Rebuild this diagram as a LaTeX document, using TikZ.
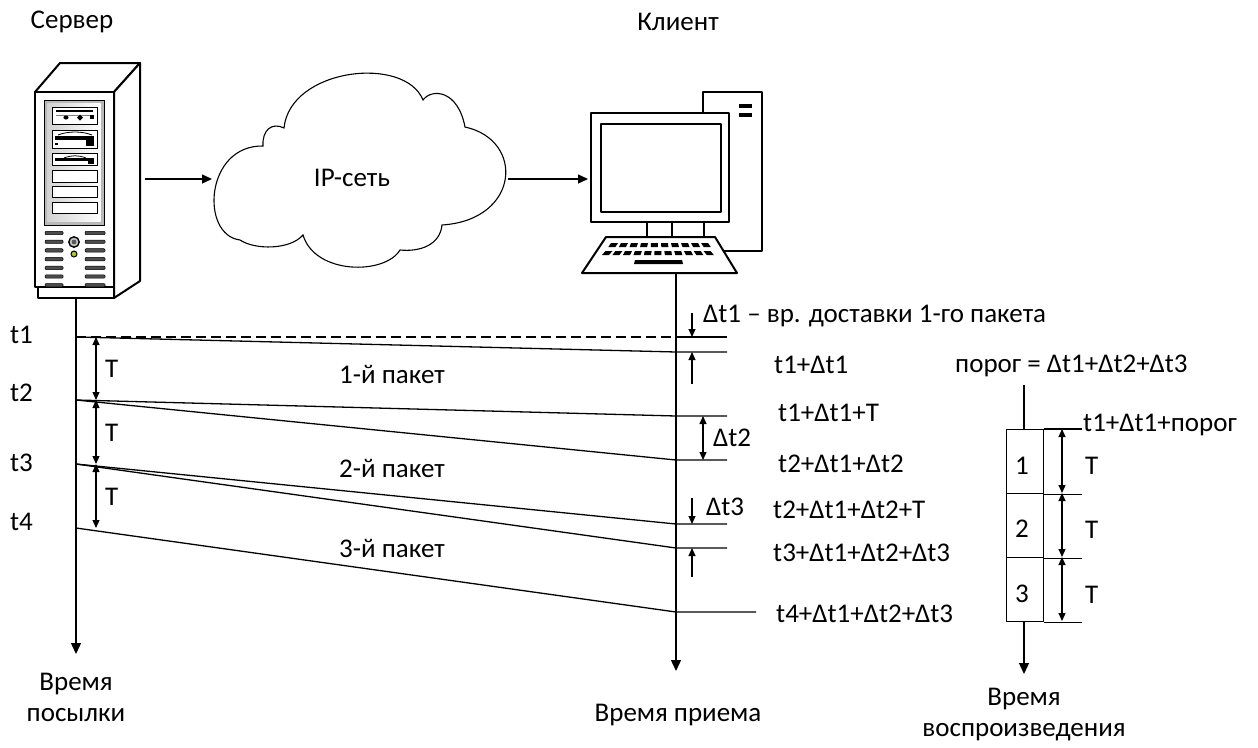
\documentclass[tikz,border=0pt]{standalone}
\usepackage{fontspec}
\setmainfont{Carlito}
\usetikzlibrary{arrows.meta}
\begin{document}
\begin{tikzpicture}[x=1pt,y=-1pt,
  lbl/.style={inner sep=0pt, font=\fontsize{27}{31}\selectfont},
  outl/.style={line width=2pt, line join=round},
  pkt/.style={line width=1.3pt},
  axis/.style={line width=1.3pt, -{Triangle[length=11pt,width=10pt]}},
  flow/.style={line width=1.3pt, -{Triangle[length=10pt,width=9pt]}},
  dim/.style={line width=1.1pt, {Triangle[length=8pt,width=7pt]}-{Triangle[length=8pt,width=7pt]}},
  dimto/.style={line width=1.1pt, -{Triangle[length=8pt,width=7pt]}},
  bay/.style={fill=white, draw=black, line width=1pt},
  vent/.style={fill=gray!60!black, draw=black, line width=0.5pt, rounded corners=1pt},
]
\fill[white] (0,0) rectangle (1258,747);
\useasboundingbox (0,0) rectangle (1258,747);

% ---------- titles ----------
\node[lbl] (tserver) at (72,22) {Сервер};
\node[lbl] (tclient) at (678,22) {Клиент};

% ---------- server tower ----------
\begin{scope}[outl]
  \filldraw[fill=white] (35,92) -- (60,63) -- (140,63) -- (114,92) -- cycle;
  \filldraw[fill=white] (114,92) -- (140,63) -- (140,281) -- (114,298) -- cycle;
  \filldraw[fill=white] (35,92) rectangle (114,287);
  \filldraw[fill=white] (38,287) rectangle (114,298);
\end{scope}
\filldraw[fill=gray!55, draw=black, line width=1pt] (44,100) rectangle (104,225);
\shade[left color=gray!35, right color=white] (47.5,103.5) rectangle (100.5,221.5);
% drive bays
\filldraw[bay] (52,107) rectangle (97,124);
\fill (56,109.5) rectangle (93,111.5);
\draw[gray, line width=0.6pt] (56,115) -- (93,115);
\fill (66,117.5) ellipse (2.6 and 2);
\fill (80,114.5) -- (83,117.5) -- (80,120.5) -- (77,117.5) -- cycle;
\fill (90,115) rectangle (94,119);
\filldraw[bay] (52,130) rectangle (97,148);
\draw[line width=0.8pt] (58,135) .. controls (68,131) and (82,131) .. (92,135);
\fill (55,136) rectangle (94,139.5);
\fill (86,139.5) rectangle (94,146);
\fill (55,143) rectangle (58,145);
\filldraw[bay] (52,153) rectangle (97,165);
\draw[line width=0.8pt] (64,158) .. controls (72,155) and (78,155) .. (86,158);
\fill (55,158) rectangle (94,160.5);
\fill (88,160.5) rectangle (94,164);
\filldraw[bay] (52,170) rectangle (97,182);
\filldraw[bay] (52,186) rectangle (97,197);
\filldraw[bay] (52,202) rectangle (97,213);
% vents, button and led
\foreach \i in {0,...,6} {
  \pgfmathsetmacro\vy{233+\i*8.7}
  \filldraw[vent] (45,\vy-1.7) rectangle (63,\vy+1.7);
  \filldraw[vent] (85,\vy-1.7) rectangle (105,\vy+1.7);
}
\filldraw[fill=gray!45, draw=black, line width=1.4pt] (74,242) circle (5.2);
\fill[gray!70!black] (74,242) circle (2.4);
\filldraw[fill=yellow!75!green!85!black, draw=black, line width=1pt] (74,254) circle (3);

% ---------- cloud ----------
\draw[line width=1.1pt, fill=white]
  (240,240) .. controls (200,235) and (205,145) .. (263,146)
  .. controls (262,130) and (272,122) .. (284,128)
  .. controls (290,68) and (405,55) .. (423,100)
  .. controls (432,88) and (458,90) .. (465,127)
  .. controls (525,140) and (520,220) .. (442,225)
  .. controls (440,245) and (420,252) .. (400,250)
  .. controls (385,275) and (315,275) .. (303,235)
  .. controls (290,250) and (255,250) .. cycle;
\node[lbl] (net) at (352,178) {IP-сеть};

% ---------- client computer ----------
\begin{scope}[outl]
  \filldraw[fill=white] (703,92) rectangle (762,251);
  \filldraw[fill=white] (591,113) rectangle (729,222);
  \draw (601,124) rectangle (721,212);
  \filldraw[fill=white] (647,222) rectangle (672,237);
  \filldraw[fill=white] (672,222) rectangle (704,237);
  \filldraw[fill=white] (606,237) -- (715,237) -- (737,273) -- (582,273) -- cycle;
\end{scope}
\fill (739,104) rectangle (752,107.5);
\fill (739,113) rectangle (752,116.5);
\foreach \i in {0,...,9} {
  \pgfmathsetmacro\kx{611+\i*10}
  \pgfmathsetmacro\sh{(\kx+3.5-659)*0.06}
  \fill (\kx,243) -- (\kx+7,243) -- (\kx+7+\sh,247) -- (\kx+\sh,247) -- cycle;
}
\foreach \i in {0,...,10} {
  \pgfmathsetmacro\kx{605.5+\i*9.8}
  \pgfmathsetmacro\sh{(\kx+3.5-659)*0.07}
  \fill (\kx,251) -- (\kx+7,251) -- (\kx+7+\sh,255) -- (\kx+\sh,255) -- cycle;
}
\fill (635,260) -- (682,260) -- (683,264) -- (634,264) -- cycle;

% ---------- data flow ----------
\coordinate (srvR) at (145,179);
\coordinate (cloudL) at (212,179);
\coordinate (cloudR) at (508,179);
\coordinate (monL) at (588,179);
\draw[flow] (srvR) -- (cloudL);
\draw[flow] (cloudR) -- (monL);

% ---------- time axes ----------
\coordinate (srvTop) at (76,298);
\coordinate (srvEnd) at (76,654);
\coordinate (cliTop) at (676,273);
\coordinate (cliEnd) at (676,671);
\draw[axis] (srvTop) -- (srvEnd);
\draw[axis] (cliTop) -- (cliEnd);
\node[lbl, align=center] (sendlbl) at (76,697) {Время\\посылки};
\node[lbl] (recvlbl) at (678,715) {Время приема};

% sending instants
\coordinate (S1) at (76,337);
\coordinate (S2) at (76,400);
\coordinate (S3) at (76,464);
\coordinate (S4) at (76,528);
% arrival instants
\coordinate (C0) at (676,337);
\coordinate (C1) at (676,352);
\coordinate (C1T) at (676,416);
\coordinate (C2) at (676,460);
\coordinate (C2T) at (676,524);
\coordinate (C3) at (676,548);
\coordinate (C4) at (676,612);
\coordinate (tick) at (727,0);
\coordinate (tickL) at (756,0);

\node[lbl, anchor=west] (t1) at (10,335) {t1};
\node[lbl, anchor=west] (t2) at (10,393) {t2};
\node[lbl, anchor=west] (t3) at (10,463) {t3};
\node[lbl, anchor=west] (t4) at (10,522) {t4};

\draw[pkt, dash pattern=on 10pt off 5pt] (S1) -- (C0);
\draw[pkt] (C0) -- (C0 -| tick);
\draw[pkt] (S1) -- (C1) -- (C1 -| tick);
\draw[pkt] (S2) -- (C1T) -- (C1T -| tick);
\draw[pkt] (S2) -- (C2) -- (C2 -| tick);
\draw[pkt] (S3) -- (C2T) -- (C2T -| tick);
\draw[pkt] (S3) -- (C3) -- (C3 -| tick);
\draw[pkt] (S4) -- (C4) -- (C4 -| tickL);

\node[lbl] (p1) at (392,374) {1-й пакет};
\node[lbl] (p2) at (392,468) {2-й пакет};
\node[lbl] (p3) at (392,548) {3-й пакет};

% send period
\coordinate (TS1) at (96,337);
\coordinate (TS2) at (96,400);
\coordinate (TS3) at (96,464);
\coordinate (TS4) at (96,528);
\draw[dim] (TS1) -- (TS2);
\draw[dim] (TS2) -- (TS3);
\draw[dim] (TS3) -- (TS4);
\node[lbl, anchor=west] (T1) at (105,369) {T};
\node[lbl, anchor=west] (T2) at (105,433) {T};
\node[lbl, anchor=west] (T3) at (105,497) {T};

% delay marks
\coordinate (d1a) at (692,313);
\coordinate (d1b) at (692,337);
\coordinate (d1c) at (692,384);
\coordinate (d1d) at (692,352);
\draw[dimto] (d1a) -- (d1b);
\draw[dimto] (d1c) -- (d1d);
\node[lbl, anchor=west] (dt1) at (703,316) {Δt1 – вр. доставки 1-го пакета};
\coordinate (d2a) at (703,416);
\coordinate (d2b) at (703,460);
\draw[dim] (d2a) -- (d2b);
\node[lbl, anchor=west] (dt2) at (713,438) {Δt2};
\coordinate (d3a) at (692,498);
\coordinate (d3b) at (692,524);
\coordinate (d3c) at (692,577);
\coordinate (d3d) at (692,548);
\draw[dimto] (d3a) -- (d3b);
\draw[dimto] (d3c) -- (d3d);
\node[lbl, anchor=west] (dt3) at (706,507) {Δt3};

\node[lbl, anchor=west] (a1) at (774,365) {t1+Δt1};
\node[lbl, anchor=west] (a2) at (778,413) {t1+Δt1+T};
\node[lbl, anchor=west] (a3) at (778,464) {t2+Δt1+Δt2};
\node[lbl, anchor=west] (a4) at (773,510) {t2+Δt1+Δt2+T};
\node[lbl, anchor=west] (a5) at (773,553) {t3+Δt1+Δt2+Δt3};
\node[lbl, anchor=west] (a6) at (776,614) {t4+Δt1+Δt2+Δt3};

% ---------- playout buffer ----------
\node[lbl, anchor=west] (thr) at (955,366) {порог = Δt1+Δt2+Δt3};
\coordinate (bTop) at (1024,385);
\coordinate (bIn) at (1024,429);
\coordinate (bOut) at (1024,621);
\coordinate (bEnd) at (1024,674);
\draw[pkt] (bTop) -- (bIn);
\draw[axis] (bOut) -- (bEnd);
\node[draw, line width=1.3pt, minimum width=37pt, minimum height=64pt, inner sep=0pt, anchor=north west] (cell1) at (1006,429) {};
\node[draw, line width=1.3pt, minimum width=37pt, minimum height=64pt, inner sep=0pt, anchor=north west] (cell2) at (1006,493) {};
\node[draw, line width=1.3pt, minimum width=37pt, minimum height=64pt, inner sep=0pt, anchor=north west] (cell3) at (1006,557) {};
\node[lbl] (n1) at (1022,466) {1};
\node[lbl] (n2) at (1022,529) {2};
\node[lbl] (n3) at (1022,594) {3};
\coordinate (bx) at (1082,0);
\draw[pkt] (cell1.north east) -- (cell1.north east -| bx);
\draw[pkt] (cell1.south east) -- (cell1.south east -| bx);
\draw[pkt] (cell2.south east) -- (cell2.south east -| bx);
\draw[pkt] (cell3.south east) -- (cell3.south east -| bx);
\coordinate (bd0) at (1062,429);
\coordinate (bd1) at (1062,493);
\coordinate (bd2) at (1062,557);
\coordinate (bd3) at (1062,621);
\draw[dim] (bd0) -- (bd1);
\draw[dim] (bd1) -- (bd2);
\draw[dim] (bd2) -- (bd3);
\node[lbl, anchor=west] (bT1) at (1085,466) {T};
\node[lbl, anchor=west] (bT2) at (1085,530) {T};
\node[lbl, anchor=west] (bT3) at (1085,595) {T};
\node[lbl, anchor=west] (start) at (1083,425) {t1+Δt1+порог};
\node[lbl, align=center] (playlbl) at (1024,715) {Время\\воспроизведения};

\end{tikzpicture}
\end{document}
